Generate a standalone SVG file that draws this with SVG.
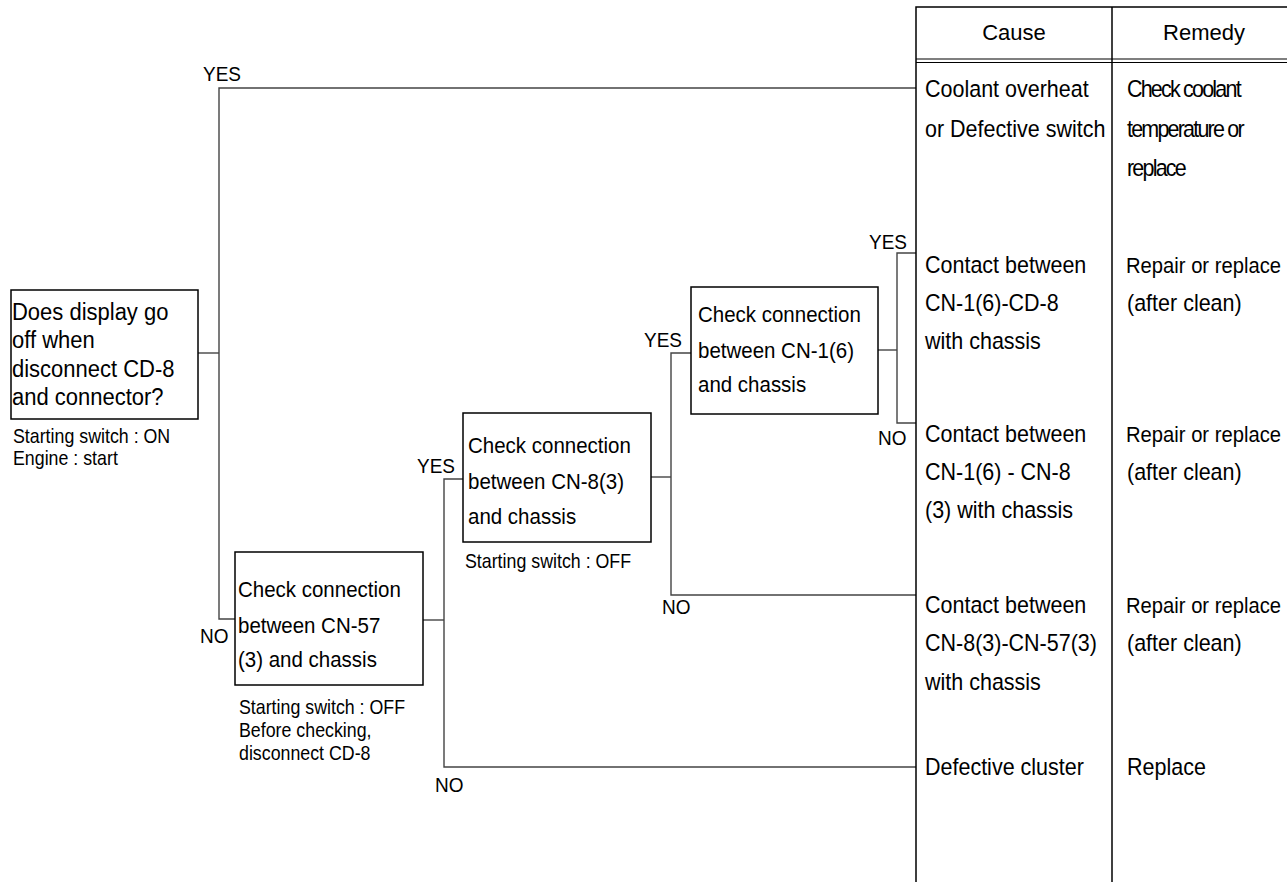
<svg xmlns="http://www.w3.org/2000/svg" width="1287" height="882" viewBox="0 0 1287 882">
<style>
text{font-family:"Liberation Sans",Arial,sans-serif;fill:#000}
.s{transform-box:fill-box;transform-origin:0 81%;transform:scaleY(1.1)}
.box{fill:#fff;stroke:#000;stroke-width:1.5}
.q1{font-size:22px}
.q{font-size:20.5px}
.note{font-size:17.8px}
.lab{font-size:19px}
.cell{font-size:21.5px}
.rr{font-size:20.4px}
.tight{letter-spacing:-1.8px}
.hdr{font-size:22px;text-anchor:middle}
.conn{fill:none;stroke:#444;stroke-width:1.4}
.tbl{fill:none;stroke:#000;stroke-width:1.5}
</style>
<rect width="1287" height="882" fill="#fff"/>

<g id="connectors">
<polyline class="conn" points="198,353 219,353"/>
<polyline class="conn" points="916,88 219,88 219,619 235,619"/>
<polyline class="conn" points="423,620 444,620"/>
<polyline class="conn" points="463,479 444,479 444,767 916,767"/>
<polyline class="conn" points="651,477 671,477"/>
<polyline class="conn" points="691,353 671,353 671,595 916,595"/>
<polyline class="conn" points="878,350 897,350"/>
<polyline class="conn" points="916,253 897,253 897,423 916,423"/>
<text class="lab s" x="203" y="81">YES</text>
<text class="lab s" x="200" y="643">NO</text>
<text class="lab s" x="417" y="473">YES</text>
<text class="lab s" x="435" y="792">NO</text>
<text class="lab s" x="644" y="347">YES</text>
<text class="lab s" x="662" y="614">NO</text>
<text class="lab s" x="869" y="249">YES</text>
<text class="lab s" x="878" y="445">NO</text>
</g>

<g id="node1">
<rect class="box" x="11" y="290" width="187" height="129"/>
<text class="q1 s" x="12" y="320">Does display go</text>
<text class="q1 s" x="12" y="348">off when</text>
<text class="q1 s" x="12" y="377">disconnect CD-8</text>
<text class="q1 s" x="12" y="405">and connector?</text>
<text class="note s" x="13" y="443">Starting switch : ON</text>
<text class="note s" x="13" y="465">Engine : start</text>
</g>

<g id="node2">
<rect class="box" x="235" y="552" width="188" height="133"/>
<text class="q s" x="238" y="597">Check connection</text>
<text class="q s" x="238" y="633">between CN-57</text>
<text class="q s" x="238" y="667">(3) and chassis</text>
<text class="note s" x="239" y="714">Starting switch : OFF</text>
<text class="note s" x="239" y="737">Before checking,</text>
<text class="note s" x="239" y="760">disconnect CD-8</text>
</g>

<g id="node3">
<rect class="box" x="463" y="413" width="188" height="129"/>
<text class="q s" x="468" y="453">Check connection</text>
<text class="q s" x="468" y="489">between CN-8(3)</text>
<text class="q s" x="468" y="524">and chassis</text>
<text class="note s" x="465" y="568">Starting switch : OFF</text>
</g>

<g id="node4">
<rect class="box" x="691" y="287" width="187" height="127"/>
<text class="q s" x="698" y="322">Check connection</text>
<text class="q s" x="698" y="358">between CN-1(6)</text>
<text class="q s" x="698" y="392">and chassis</text>
</g>

<g id="table">
<polyline class="tbl" points="1287,7 916,7 916,882"/>
<line class="tbl" x1="1112" y1="7" x2="1112" y2="882"/>
<line x1="916" y1="59" x2="1287" y2="59" stroke="#000" stroke-width="1.2"/>
<line x1="916" y1="62.5" x2="1287" y2="62.5" stroke="#000" stroke-width="1.2"/>
<text class="hdr" x="1014" y="40">Cause</text>
<text class="hdr" x="1204" y="40">Remedy</text>
</g>

<g id="row1">
<text class="cell s" x="925" y="97">Coolant overheat</text>
<text class="cell s" x="925" y="137">or Defective switch</text>
<text class="cell tight s" x="1127" y="97">Check coolant</text>
<text class="cell tight s" x="1127" y="137">temperature or</text>
<text class="cell tight s" x="1127" y="176">replace</text>
</g>
<g id="row2">
<text class="cell s" x="925" y="273">Contact between</text>
<text class="cell s" x="925" y="311">CN-1(6)-CD-8</text>
<text class="cell s" x="925" y="349">with chassis</text>
<text class="rr s" x="1126" y="273" textLength="155" lengthAdjust="spacingAndGlyphs">Repair or replace</text>
<text class="cell s" x="1127" y="311">(after clean)</text>
</g>
<g id="row3">
<text class="cell s" x="925" y="442">Contact between</text>
<text class="cell s" x="925" y="480">CN-1(6) - CN-8</text>
<text class="cell s" x="925" y="518">(3) with chassis</text>
<text class="rr s" x="1126" y="442" textLength="155" lengthAdjust="spacingAndGlyphs">Repair or replace</text>
<text class="cell s" x="1127" y="480">(after clean)</text>
</g>
<g id="row4">
<text class="cell s" x="925" y="613">Contact between</text>
<text class="cell s" x="925" y="651">CN-8(3)-CN-57(3)</text>
<text class="cell s" x="925" y="690">with chassis</text>
<text class="rr s" x="1126" y="613" textLength="155" lengthAdjust="spacingAndGlyphs">Repair or replace</text>
<text class="cell s" x="1127" y="651">(after clean)</text>
</g>
<g id="row5">
<text class="cell s" x="925" y="775">Defective cluster</text>
<text class="cell s" x="1127" y="775">Replace</text>
</g>
</svg>
